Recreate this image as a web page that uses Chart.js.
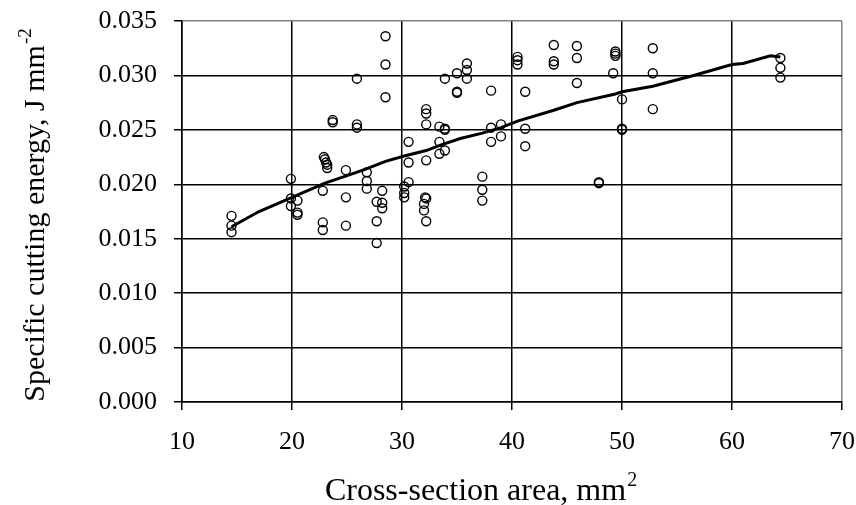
<!DOCTYPE html>
<html>
<head>
<meta charset="utf-8">
<script src="https://cdn.jsdelivr.net/npm/chart.js@4/dist/chart.umd.min.js"></script>
<style>
  html, body { margin: 0; padding: 0; background: #fff; }
  #wrap { width: 856px; height: 505px; }
</style>
</head>
<body>
<div id="wrap"><canvas id="energyChart" width="856" height="505"></canvas></div>
<script>
// measured points: cross-section area (mm2) and specific cutting energy (J mm-2)
const areaValues = [
  14.5, 14.5, 14.5,
  19.9, 19.9, 19.9, 20.5, 20.5, 20.5,
  22.9, 23.0, 23.1, 23.2, 23.2, 22.8, 22.8, 22.8,
  23.7, 23.7,
  24.9, 24.9, 24.9,
  25.9, 25.9, 25.9,
  26.8, 26.8, 26.8,
  27.7, 27.7, 27.7, 28.2, 28.2, 28.2,
  28.5, 28.5, 28.5,
  30.2, 30.2, 30.2, 30.6, 30.6, 30.6,
  32.2, 32.2, 32.2, 32.2, 32.1, 32.2, 32.0, 32.0, 32.2,
  33.4, 33.4, 33.4, 33.9, 33.9, 33.9, 33.9,
  35.0, 35.0, 35.0,
  35.9, 35.9, 35.9,
  37.3, 37.3, 37.3,
  38.1, 38.1, 38.1,
  39.0, 39.0,
  40.5, 40.5, 40.5,
  41.2, 41.2, 41.2,
  43.8, 43.8, 43.8,
  45.9, 45.9, 45.9,
  47.9, 47.9,
  49.2, 49.4, 49.4, 49.4,
  50.0, 50.0, 50.0,
  52.8, 52.8, 52.8,
  64.4, 64.4, 64.4
];
const energyValues = [
  0.0171, 0.0162, 0.0156,
  0.0205, 0.0187, 0.0180, 0.0185, 0.0174, 0.0172,
  0.0225, 0.0223, 0.0220, 0.0218, 0.0215, 0.0194, 0.0165, 0.0158,
  0.0259, 0.0257,
  0.0213, 0.0188, 0.0162,
  0.0297, 0.0255, 0.0252,
  0.0211, 0.0203, 0.0196,
  0.0184, 0.0166, 0.0146, 0.0194, 0.0183, 0.0178,
  0.0336, 0.0310, 0.0280,
  0.0198, 0.0192, 0.0188, 0.0239, 0.0220, 0.0202,
  0.0269, 0.0265, 0.0255, 0.0222, 0.0188, 0.0187, 0.0182, 0.0176, 0.0166,
  0.0253, 0.0239, 0.0228, 0.0251, 0.0231, 0.0297, 0.0250,
  0.0302, 0.0285, 0.0284,
  0.0311, 0.0305, 0.0297,
  0.0207, 0.0195, 0.0185,
  0.0286, 0.0252, 0.0239,
  0.0255, 0.0244,
  0.0317, 0.0314, 0.0310,
  0.0285, 0.0251, 0.0235,
  0.0328, 0.0313, 0.0310,
  0.0327, 0.0316, 0.0293,
  0.0202, 0.0201,
  0.0302, 0.0322, 0.0320, 0.0318,
  0.0278, 0.0251, 0.0250,
  0.0325, 0.0302, 0.0269,
  0.0316, 0.0307, 0.0298
];

// fitted curve
const fitArea = [14.5, 17.0, 20.0, 23.0, 25.0, 26.7, 28.5, 30.2, 32.2, 33.5, 35.3, 37.3, 39.0, 40.5, 43.8, 45.9, 49.4, 50.0, 52.8, 56.5, 60.0, 61.0, 63.5, 64.4];
const fitEnergy = [0.0161, 0.0175, 0.0188, 0.0201, 0.0208, 0.0214, 0.0221, 0.0226, 0.0231, 0.0236, 0.0242, 0.0247, 0.0252, 0.0258, 0.0268, 0.0275, 0.0283, 0.0285, 0.0290, 0.0300, 0.0310, 0.0311, 0.0318, 0.0317];

const xTitle = ['Cross-section area, mm', '2'];
const yTitle = ['Specific cutting energy, J mm', '-2'];

const serif = '"Liberation Serif", "Times New Roman", serif';

// draw a title with a raised superscript part
function drawSupText(c, parts, size) {
  c.font = size + 'px ' + serif;
  const w1 = c.measureText(parts[0]).width;
  const small = Math.round(size * 0.62);
  c.font = small + 'px ' + serif;
  const w2 = c.measureText(parts[1]).width;
  const x0 = -(w1 + w2 + 1) / 2;
  c.font = size + 'px ' + serif;
  c.fillText(parts[0], x0, 0);
  c.font = small + 'px ' + serif;
  c.fillText(parts[1], x0 + w1 + 1, -size * 0.45);
}

const titlePlugin = {
  id: 'axisTitles',
  afterDraw(chart) {
    const c = chart.ctx;
    c.save();
    c.fillStyle = '#000';
    c.textAlign = 'left';
    c.textBaseline = 'alphabetic';
    c.translate(481, 500);
    drawSupText(c, xTitle, 32);
    c.restore();

    c.save();
    c.fillStyle = '#000';
    c.textAlign = 'left';
    c.textBaseline = 'alphabetic';
    c.translate(44, 215);
    c.rotate(-Math.PI / 2);
    drawSupText(c, yTitle, 30);
    c.restore();
  }
};

const scatterPoints = areaValues.map((x, i) => ({ x: x, y: energyValues[i] }));
const fitPoints = fitArea.map((x, i) => ({ x: x, y: fitEnergy[i] }));

const ctx = document.getElementById('energyChart').getContext('2d');
const energyChart = new Chart(ctx, {
  type: 'scatter',
  data: {
    datasets: [
      {
        type: 'line',
        label: 'Fit',
        data: fitPoints,
        borderColor: '#000',
        borderWidth: 3,
        pointRadius: 0,
        fill: false,
        tension: 0,
        order: 0
      },
      {
        label: 'Measured',
        data: scatterPoints,
        pointStyle: 'circle',
        pointRadius: 4.5,
        pointBorderWidth: 1.4,
        pointBorderColor: '#000',
        pointBackgroundColor: 'rgba(0,0,0,0)',
        order: 1
      }
    ]
  },
  options: {
    responsive: false,
    animation: false,
    layout: { padding: { top: 21, right: 14, left: 0, bottom: 0 } },
    plugins: {
      legend: { display: false },
      tooltip: { enabled: false }
    },
    scales: {
      x: {
        type: 'linear',
        min: 10,
        max: 70,
        afterFit: s => { s.height = 103; s.paddingLeft = 0; s.paddingRight = 0; },
        ticks: {
          stepSize: 10,
          padding: 17,
          color: '#000',
          font: { family: serif, size: 26 }
        },
        grid: {
          color: c => (c.tick && c.tick.value === 70 ? '#808080' : '#000'),
          lineWidth: 1.5,
          tickColor: '#000',
          tickLength: 8
        },
        border: { color: '#000', width: 1.5 }
      },
      y: {
        min: 0,
        max: 0.035,
        afterFit: s => { s.width = 182; s.paddingTop = 0; s.paddingBottom = 0; },
        ticks: {
          stepSize: 0.005,
          padding: 17,
          color: '#000',
          font: { family: serif, size: 26 },
          callback: v => v.toFixed(3)
        },
        grid: {
          color: c => (c.tick && c.tick.value > 0.0349 ? '#808080' : '#000'),
          lineWidth: 1.5,
          tickColor: '#000',
          tickLength: 8
        },
        border: { color: '#000', width: 1.5 }
      }
    }
  },
  plugins: [titlePlugin]
});
</script>
</body>
</html>
